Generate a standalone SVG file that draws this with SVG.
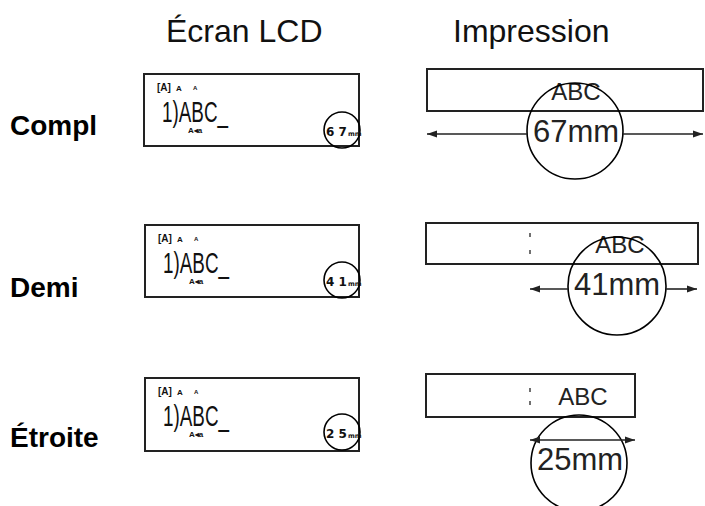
<svg xmlns="http://www.w3.org/2000/svg" width="705" height="506" viewBox="0 0 705 506">
<style>
.title{font-family:"Liberation Sans",Arial,sans-serif;font-size:32px;fill:#111}
.row{font-family:"Liberation Sans",Arial,sans-serif;font-size:28px;font-weight:bold;fill:#000}
.box{fill:#fff;stroke:#222;stroke-width:2}
.circ{fill:none;stroke:#000;stroke-width:1.6}
.dim{stroke:#222;stroke-width:1.6;fill:none}
.ptxt{font-family:"Liberation Sans",Arial,sans-serif;fill:#222}
.lcdA{font-family:"Liberation Sans",Arial,sans-serif;font-weight:bold;fill:#111}
.lcdmain{font-family:"Liberation Sans",Arial,sans-serif;font-size:30px;font-weight:300;fill:#111}
.seg{font-family:"DejaVu Sans","Liberation Sans",sans-serif;font-weight:bold;fill:#111}
.dash{stroke:#333;stroke-width:1.4}
</style>
<defs>
<marker id="ah" viewBox="0 0 10 10" refX="10" refY="5" markerWidth="10" markerHeight="10" markerUnits="userSpaceOnUse" orient="auto-start-reverse">
<path d="M0,1.5 L10,5 L0,8.5 Z" fill="#222"/>
</marker>
<g id="lcdtext">
<text class="lcdA" x="0" y="0" font-size="10">[A]</text>
<text class="lcdA" x="19" y="0" font-size="8">A</text>
<text class="lcdA" x="36" y="-1" font-size="6">A</text>
<text class="lcdmain" x="5" y="31" textLength="66" lengthAdjust="spacingAndGlyphs">1)ABC_</text>
<text class="lcdA" x="31" y="42" font-size="8" font-weight="normal">A◂a</text>
</g>
</defs>

<text class="title" x="166" y="42">Écran LCD</text>
<text class="title" x="453" y="42">Impression</text>

<text class="row" x="10" y="135">Compl</text>
<text class="row" x="10" y="297">Demi</text>
<text class="row" x="10" y="447">Étroite</text>

<g id="lcd-compl">
<rect class="box" x="144" y="74" width="215" height="72"/>
<use href="#lcdtext" x="157" y="91"/>
<circle class="circ" cx="342" cy="130" r="18"/>
<text class="seg" x="326" y="136" font-size="12">6 7</text>
<text class="seg" x="348" y="136" font-size="6.5">mm</text>
</g>

<g id="lcd-demi">
<rect class="box" x="145" y="225" width="214" height="72"/>
<use href="#lcdtext" x="158" y="242"/>
<circle class="circ" cx="342" cy="280" r="18"/>
<text class="seg" x="326" y="286" font-size="12">4 1</text>
<text class="seg" x="348" y="286" font-size="6.5">mm</text>
</g>

<g id="lcd-etroite">
<rect class="box" x="145" y="378" width="214" height="73"/>
<use href="#lcdtext" x="158" y="395"/>
<circle class="circ" cx="342" cy="432" r="18"/>
<text class="seg" x="326" y="438" font-size="12">2 5</text>
<text class="seg" x="348" y="438" font-size="6.5">mm</text>
</g>

<g id="print-compl">
<rect class="box" x="427" y="69" width="276" height="42"/>
<text class="ptxt" x="576" y="100" font-size="24" text-anchor="middle">ABC</text>
<circle class="circ" cx="575" cy="131" r="48"/>
<text class="ptxt" x="576" y="142" font-size="31" text-anchor="middle">67mm</text>
</g>

<g id="print-demi">
<rect class="box" x="426" y="223" width="272" height="41"/>
<line class="dash" x1="530" y1="233" x2="530" y2="237"/>
<line class="dash" x1="530" y1="250" x2="530" y2="254"/>
<text class="ptxt" x="620" y="253" font-size="24" text-anchor="middle">ABC</text>
<circle class="circ" cx="617" cy="286" r="49"/>
<text class="ptxt" x="617" y="295" font-size="31" text-anchor="middle">41mm</text>
</g>

<g id="print-etroite">
<rect class="box" x="426" y="374" width="209" height="43"/>
<line class="dash" x1="530" y1="388" x2="530" y2="392"/>
<line class="dash" x1="530" y1="401" x2="530" y2="405"/>
<text class="ptxt" x="583" y="405" font-size="24" text-anchor="middle">ABC</text>
<circle class="circ" cx="579" cy="463" r="48"/>
<text class="ptxt" x="580" y="470" font-size="31" text-anchor="middle">25mm</text>
</g>

<g id="connectors">
<line class="dim" x1="527" y1="134" x2="427" y2="134" marker-end="url(#ah)"/>
<line class="dim" x1="623" y1="134" x2="703" y2="134" marker-end="url(#ah)"/>
<line class="dim" x1="568" y1="289" x2="530" y2="289" marker-end="url(#ah)"/>
<line class="dim" x1="666" y1="289" x2="697" y2="289" marker-end="url(#ah)"/>
<line class="dim" x1="530" y1="440" x2="635" y2="440" marker-start="url(#ah)" marker-end="url(#ah)"/>
</g>
</svg>
